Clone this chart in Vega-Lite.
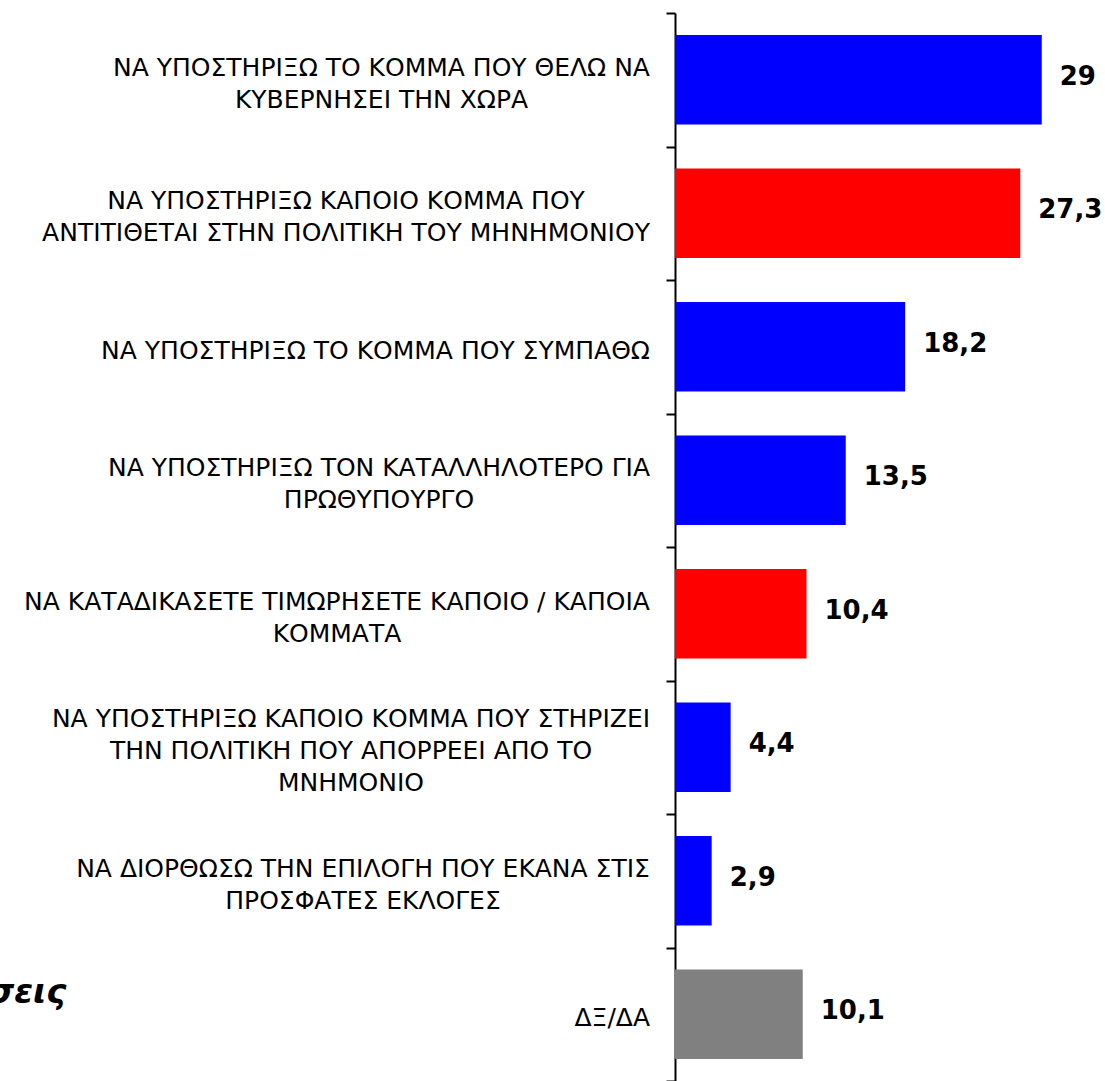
{
  "$schema": "https://vega.github.io/schema/vega-lite/v6.json",
  "width": 430,
  "height": 1068,
  "autosize": {"type": "none"},
  "padding": {"left": 675, "top": 13, "right": 0, "bottom": 0},
  "background": "white",
  "config": {
    "view": {"stroke": null},
    "locale": {"number": {"decimal": ",", "thousands": ".", "grouping": [3], "currency": ["", " €"]}}
  },
  "data": {
    "values": [
      {"label": "ΝΑ ΥΠΟΣΤΗΡΙΞΩ ΤΟ ΚΟΜΜΑ ΠΟΥ ΘΕΛΩ ΝΑ|ΚΥΒΕΡΝΗΣΕΙ ΤΗΝ ΧΩΡΑ", "value": 29, "kind": "positive"},
      {"label": "ΝΑ ΥΠΟΣΤΗΡΙΞΩ ΚΑΠΟΙΟ ΚΟΜΜΑ ΠΟΥ|ΑΝΤΙΤΙΘΕΤΑΙ ΣΤΗΝ ΠΟΛΙΤΙΚΗ ΤΟΥ ΜΗΝΗΜΟΝΙΟΥ", "value": 27.3, "kind": "protest"},
      {"label": "ΝΑ ΥΠΟΣΤΗΡΙΞΩ ΤΟ ΚΟΜΜΑ ΠΟΥ ΣΥΜΠΑΘΩ", "value": 18.2, "kind": "positive"},
      {"label": "ΝΑ ΥΠΟΣΤΗΡΙΞΩ ΤΟΝ ΚΑΤΑΛΛΗΛΟΤΕΡΟ ΓΙΑ|ΠΡΩΘΥΠΟΥΡΓΟ", "value": 13.5, "kind": "positive"},
      {"label": "ΝΑ ΚΑΤΑΔΙΚΑΣΕΤΕ ΤΙΜΩΡΗΣΕΤΕ ΚΑΠΟΙΟ / ΚΑΠΟΙΑ|ΚΟΜΜΑΤΑ", "value": 10.4, "kind": "protest"},
      {"label": "ΝΑ ΥΠΟΣΤΗΡΙΞΩ ΚΑΠΟΙΟ ΚΟΜΜΑ ΠΟΥ ΣΤΗΡΙΖΕΙ|ΤΗΝ ΠΟΛΙΤΙΚΗ ΠΟΥ ΑΠΟΡΡΕΕΙ ΑΠΟ ΤΟ|ΜΝΗΜΟΝΙΟ", "value": 4.4, "kind": "positive"},
      {"label": "ΝΑ ΔΙΟΡΘΩΣΩ ΤΗΝ ΕΠΙΛΟΓΗ ΠΟΥ ΕΚΑΝΑ ΣΤΙΣ|ΠΡΟΣΦΑΤΕΣ ΕΚΛΟΓΕΣ", "value": 2.9, "kind": "positive"},
      {"label": "ΔΞ/ΔΑ", "value": 10.1, "kind": "dk"}
    ]
  },
  "encoding": {
    "y": {
      "field": "label",
      "type": "nominal",
      "sort": null,
      "scale": {"paddingInner": 0, "paddingOuter": 0},
      "axis": {
        "title": "Αποφάσεις",
        "titleAngle": 0,
        "titleAlign": "right",
        "titleBaseline": "alphabetic",
        "titleX": -609,
        "titleY": 989,
        "titleFont": "DejaVu Sans",
        "titleFontSize": 34,
        "titleFontWeight": "bold",
        "titleFontStyle": "italic",
        "titleColor": "black",
        "labels": false,
        "tickBand": "extent",
        "tickSize": 9,
        "tickWidth": 2,
        "tickColor": "black",
        "domainColor": "black",
        "domainWidth": 2,
        "grid": false
      }
    }
  },
  "layer": [
    {
      "mark": {"type": "bar", "height": {"band": 0.672}},
      "encoding": {
        "x": {
          "field": "value",
          "type": "quantitative",
          "scale": {"domain": [0, 34], "nice": false, "zero": true},
          "axis": null
        },
        "color": {
          "field": "kind",
          "type": "nominal",
          "scale": {"domain": ["positive", "protest", "dk"], "range": ["#0000FF", "#FF0000", "#808080"]},
          "legend": null
        }
      }
    },
    {
      "mark": {"type": "text", "align": "left", "baseline": "middle", "dx": 18, "dy": -3, "font": "DejaVu Sans", "fontSize": 26, "fontWeight": "bold", "color": "black"},
      "encoding": {
        "x": {"field": "value", "type": "quantitative"},
        "text": {"field": "value", "type": "quantitative", "format": ".1~f"}
      }
    },
    {
      "mark": {
        "type": "text",
        "align": "center",
        "baseline": "middle",
        "lineBreak": "|",
        "lineHeight": 32,
        "font": "DejaVu Sans",
        "fontSize": 25,
        "color": "black",
        "dy": {"expr": "4 - (length(split(datum.label, '|')) - 1) * 16"},
        "dx": {"expr": "[-293.5, -329, -299.5, -296, -338, -324, -312, -62.75][indexof(['ΝΑ ΥΠΟΣΤΗΡΙΞΩ ΤΟ ΚΟΜΜΑ ΠΟΥ ΘΕΛΩ ΝΑ|ΚΥΒΕΡΝΗΣΕΙ ΤΗΝ ΧΩΡΑ', 'ΝΑ ΥΠΟΣΤΗΡΙΞΩ ΚΑΠΟΙΟ ΚΟΜΜΑ ΠΟΥ|ΑΝΤΙΤΙΘΕΤΑΙ ΣΤΗΝ ΠΟΛΙΤΙΚΗ ΤΟΥ ΜΗΝΗΜΟΝΙΟΥ', 'ΝΑ ΥΠΟΣΤΗΡΙΞΩ ΤΟ ΚΟΜΜΑ ΠΟΥ ΣΥΜΠΑΘΩ', 'ΝΑ ΥΠΟΣΤΗΡΙΞΩ ΤΟΝ ΚΑΤΑΛΛΗΛΟΤΕΡΟ ΓΙΑ|ΠΡΩΘΥΠΟΥΡΓΟ', 'ΝΑ ΚΑΤΑΔΙΚΑΣΕΤΕ ΤΙΜΩΡΗΣΕΤΕ ΚΑΠΟΙΟ / ΚΑΠΟΙΑ|ΚΟΜΜΑΤΑ', 'ΝΑ ΥΠΟΣΤΗΡΙΞΩ ΚΑΠΟΙΟ ΚΟΜΜΑ ΠΟΥ ΣΤΗΡΙΖΕΙ|ΤΗΝ ΠΟΛΙΤΙΚΗ ΠΟΥ ΑΠΟΡΡΕΕΙ ΑΠΟ ΤΟ|ΜΝΗΜΟΝΙΟ', 'ΝΑ ΔΙΟΡΘΩΣΩ ΤΗΝ ΕΠΙΛΟΓΗ ΠΟΥ ΕΚΑΝΑ ΣΤΙΣ|ΠΡΟΣΦΑΤΕΣ ΕΚΛΟΓΕΣ', 'ΔΞ/ΔΑ'], datum.label)]"}
      },
      "encoding": {
        "x": {"datum": 0, "type": "quantitative"},
        "text": {"field": "label", "type": "nominal"}
      }
    }
  ]
}
